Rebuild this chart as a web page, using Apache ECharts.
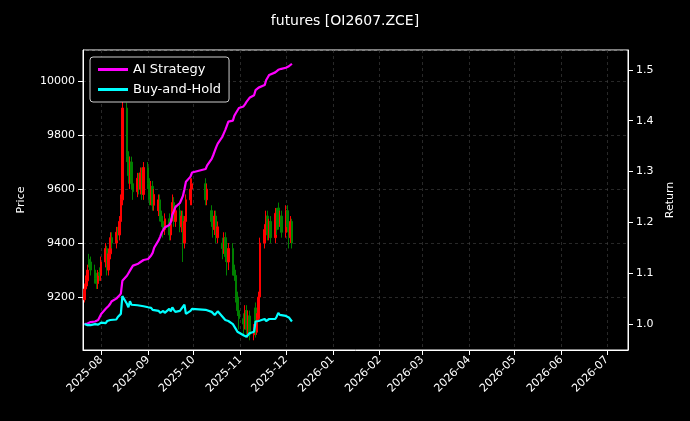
<!DOCTYPE html>
<html>
<head>
<meta charset="utf-8">
<script src="https://cdn.jsdelivr.net/npm/echarts@6/dist/echarts.min.js"></script>
<style>html,body{margin:0;background:#000}#chart{width:690px;height:421px}</style>
</head>
<body>
<div id="chart"></div>
<script>
// trading days: weekdays 2025-07-21 .. 2025-12-05, National Day holiday skipped
const startDay = '2025-07-21';
const endDay = '2025-12-05';
const holidays = ['2025-10-01', '2025-10-02', '2025-10-03', '2025-10-06', '2025-10-07', '2025-10-08'];

const opens = [
  9190, 9230, 9260, 9340, 9330, 9300, 9270, 9250, 9290,
  9280, 9330, 9380, 9300, 9360, 9420, 9400, 9440, 9430, 9480,
  9560, 9900, 9720, 9650, 9700, 9620, 9590, 9640, 9600, 9660,
  9580, 9680, 9620, 9560, 9610, 9540, 9520, 9560, 9500,
  9480, 9450, 9490, 9430, 9500, 9550, 9480, 9520, 9460,
  9500, 9400, 9480, 9560, 9600, 9620, 9560, 9520, 9480,
  9450, 9500, 9420, 9400, 9380, 9420, 9350, 9330, 9380,
  9300, 9280, 9200, 9150, 9120, 9100, 9150, 9080, 9130, 9060,
  9160, 9070, 9120, 9200, 9400, 9450, 9500, 9430, 9480,
  9420, 9510, 9530, 9470, 9500, 9440, 9520, 9460, 9420,
  9480
];
const closes = [
  9230, 9260, 9300, 9330, 9300, 9270, 9250, 9290, 9280,
  9330, 9380, 9300, 9360, 9420, 9400, 9440, 9430, 9480, 9560,
  9900, 9720, 9650, 9700, 9620, 9590, 9640, 9600, 9660, 9580,
  9680, 9620, 9560, 9610, 9540, 9580, 9560, 9500, 9480,
  9450, 9490, 9430, 9470, 9550, 9480, 9520, 9460, 9500,
  9400, 9480, 9560, 9600, 9620, 9560, 9600, 9480, 9450,
  9500, 9420, 9460, 9380, 9420, 9350, 9330, 9380, 9300,
  9280, 9200, 9150, 9120, 9100, 9150, 9080, 9130, 9060, 9090,
  9070, 9120, 9200, 9400, 9450, 9500, 9430, 9480, 9420,
  9510, 9450, 9470, 9500, 9440, 9520, 9460, 9420, 9480,
  9400
];
const highs = [
  9250, 9280, 9320, 9360, 9350, 9320, 9290, 9300, 9310,
  9350, 9400, 9390, 9380, 9440, 9440, 9460, 9460, 9500, 9580,
  9960, 9920, 9740, 9720, 9720, 9640, 9660, 9660, 9680, 9680,
  9700, 9700, 9640, 9630, 9630, 9600, 9580, 9580, 9520,
  9500, 9510, 9510, 9490, 9580, 9570, 9540, 9540, 9520,
  9520, 9500, 9580, 9640, 9640, 9640, 9620, 9540, 9500,
  9520, 9520, 9480, 9420, 9440, 9440, 9380, 9400, 9400,
  9320, 9300, 9220, 9170, 9140, 9170, 9170, 9150, 9150, 9100,
  9180, 9140, 9220, 9420, 9470, 9520, 9520, 9490, 9500,
  9530, 9530, 9550, 9520, 9520, 9540, 9540, 9480, 9500,
  9490
];
const lows = [
  9180, 9210, 9240, 9310, 9280, 9250, 9230, 9230, 9260,
  9260, 9310, 9280, 9280, 9340, 9380, 9380, 9410, 9410, 9460,
  9540, 9700, 9620, 9600, 9600, 9560, 9570, 9580, 9580, 9560,
  9560, 9600, 9540, 9540, 9520, 9520, 9500, 9480, 9460,
  9420, 9430, 9410, 9410, 9480, 9460, 9460, 9440, 9440,
  9330, 9380, 9460, 9540, 9540, 9540, 9540, 9460, 9420,
  9430, 9400, 9400, 9340, 9360, 9330, 9280, 9300, 9280,
  9260, 9180, 9130, 9080, 9060, 9080, 9060, 9050, 9040, 9040,
  9050, 9060, 9110, 9180, 9380, 9420, 9410, 9410, 9400,
  9400, 9430, 9450, 9460, 9420, 9420, 9440, 9380, 9400,
  9380
];
const aiStrategy = [
  1.000, 1.000, 1.001, 1.003, 1.004, 1.005, 1.006, 1.008, 1.010,
  1.020, 1.030, 1.033, 1.036, 1.040, 1.045, 1.050, 1.052, 1.056, 1.060,
  1.085, 1.095, 1.100, 1.105, 1.110, 1.115, 1.118, 1.120, 1.122, 1.124,
  1.126, 1.128, 1.130, 1.135, 1.140, 1.150, 1.165, 1.172, 1.180,
  1.185, 1.190, 1.195, 1.200, 1.215, 1.222, 1.230, 1.238, 1.245,
  1.252, 1.265, 1.280, 1.290, 1.298, 1.305, 1.312, 1.325, 1.332,
  1.340, 1.348, 1.355, 1.368, 1.375, 1.382, 1.390, 1.398, 1.400,
  1.410, 1.415, 1.420, 1.425, 1.428, 1.432, 1.437, 1.440, 1.445, 1.450,
  1.460, 1.462, 1.465, 1.468, 1.470, 1.480, 1.485, 1.490, 1.492,
  1.495, 1.497, 1.500, 1.500, 1.502, 1.504, 1.505, 1.507, 1.509,
  1.512
];
const buyHold = [
  1.000, 1.000, 0.998, 0.997, 0.998, 1.000, 1.002, 0.999, 1.000,
  1.003, 1.002, 1.006, 1.004, 1.008, 1.010, 1.009, 1.014, 1.016, 1.020,
  1.055, 1.040, 1.033, 1.045, 1.038, 1.040, 1.037, 1.040, 1.036, 1.038,
  1.035, 1.033, 1.030, 1.032, 1.028, 1.025, 1.026, 1.022, 1.024,
  1.026, 1.022, 1.030, 1.025, 1.033, 1.028, 1.024, 1.026, 1.028,
  1.034, 1.038, 1.020, 1.026, 1.030, 1.028, 1.025, 1.024, 1.022,
  1.018, 1.020, 1.025, 1.015, 1.012, 1.008, 1.010, 1.006, 1.000,
  0.995, 0.990, 0.985, 0.982, 0.978, 0.976, 0.975, 0.978, 0.982, 0.985,
  1.005, 1.003, 1.006, 1.008, 1.010, 1.006, 1.008, 1.010, 1.012,
  1.010, 1.015, 1.022, 1.018, 1.015, 1.016, 1.014, 1.013, 1.010,
  1.005
];

function tradingDays() {
  const out = [];
  const d = new Date(startDay + 'T00:00:00Z');
  const end = new Date(endDay + 'T00:00:00Z');
  while (d <= end) {
    const s = d.toISOString().slice(0, 10);
    const wd = d.getUTCDay();
    if (wd !== 0 && wd !== 6 && holidays.indexOf(s) < 0) out.push(s);
    d.setUTCDate(d.getUTCDate() + 1);
  }
  return out;
}

const dates = tradingDays();
const candles = dates.map((t, i) => [t, opens[i], closes[i], lows[i], highs[i]]);
const aiData = dates.map((t, i) => [t, aiStrategy[i]]);
const bhData = dates.map((t, i) => [t, buyHold[i]]);

const textStyle = { color: '#fff', fontFamily: 'DejaVu Sans', fontSize: 11 };
const gridLine = { show: true, lineStyle: { color: '#444', type: [3, 3], width: 0.6 } };

const myChart = echarts.init(document.getElementById('chart'));
myChart.setOption({
  backgroundColor: '#000',
  animation: false,
  title: {
    text: 'futures [OI2607.ZCE]', left: 'center', top: 9,
    textStyle: { color: '#fff', fontFamily: 'DejaVu Sans', fontSize: 14, fontWeight: 'normal' }
  },
  legend: {
    left: 90, top: 57, orient: 'vertical', itemGap: 7,
    itemWidth: 30, itemHeight: 3, icon: 'rect',
    backgroundColor: '#000', borderColor: '#ccc', borderWidth: 1, borderRadius: 3, padding: [6, 8],
    textStyle: { color: '#fff', fontFamily: 'DejaVu Sans', fontSize: 13 },
    data: ['AI Strategy', 'Buy-and-Hold']
  },
  grid: { left: 83, right: 62, top: 50, bottom: 71, show: true, borderColor: '#fff', borderWidth: 1 },
  xAxis: {
    type: 'time',
    min: '2025-07-20', max: '2026-07-15',
    splitNumber: 12, minInterval: 28 * 86400000,
    axisLine: { lineStyle: { color: '#fff' } },
    axisTick: { lineStyle: { color: '#fff' } },
    axisLabel: Object.assign({}, textStyle, { rotate: 45, formatter: '{yyyy}-{MM}', hideOverlap: false }),
    splitLine: gridLine
  },
  yAxis: [
    {
      type: 'value', min: 9004, max: 10115, splitNumber: 5, name: 'Price',
      nameLocation: 'middle', nameGap: 56, nameTextStyle: textStyle,
      axisLine: { show: true, lineStyle: { color: '#fff' } },
      axisTick: { show: true, lineStyle: { color: '#fff' } },
      axisLabel: Object.assign({}, textStyle, { showMinLabel: false, showMaxLabel: false, formatter: v => String(v) }),
      splitLine: gridLine
    },
    {
      type: 'value', min: 0.949, max: 1.539, splitNumber: 6, name: 'Return',
      nameLocation: 'middle', nameGap: 36, nameTextStyle: textStyle,
      axisLine: { show: true, lineStyle: { color: '#fff' } },
      axisTick: { show: true, lineStyle: { color: '#fff' } },
      axisLabel: Object.assign({}, textStyle, { showMinLabel: false, showMaxLabel: false, formatter: v => v.toFixed(1) }),
      splitLine: { show: false }
    }
  ],
  series: [
    {
      type: 'candlestick', data: candles, barMaxWidth: 2, barWidth: 2,
      itemStyle: { color: '#ff0000', color0: '#008000', borderColor: '#ff0000', borderColor0: '#008000', borderWidth: 1 }
    },
    {
      name: 'AI Strategy', type: 'line', yAxisIndex: 1, data: aiData, showSymbol: false,
      lineStyle: { color: '#ff00ff', width: 2.2 }, itemStyle: { color: '#ff00ff' }
    },
    {
      name: 'Buy-and-Hold', type: 'line', yAxisIndex: 1, data: bhData, showSymbol: false,
      lineStyle: { color: '#00ffff', width: 2.2 }, itemStyle: { color: '#00ffff' }
    }
  ]
});
</script>
</body>
</html>
